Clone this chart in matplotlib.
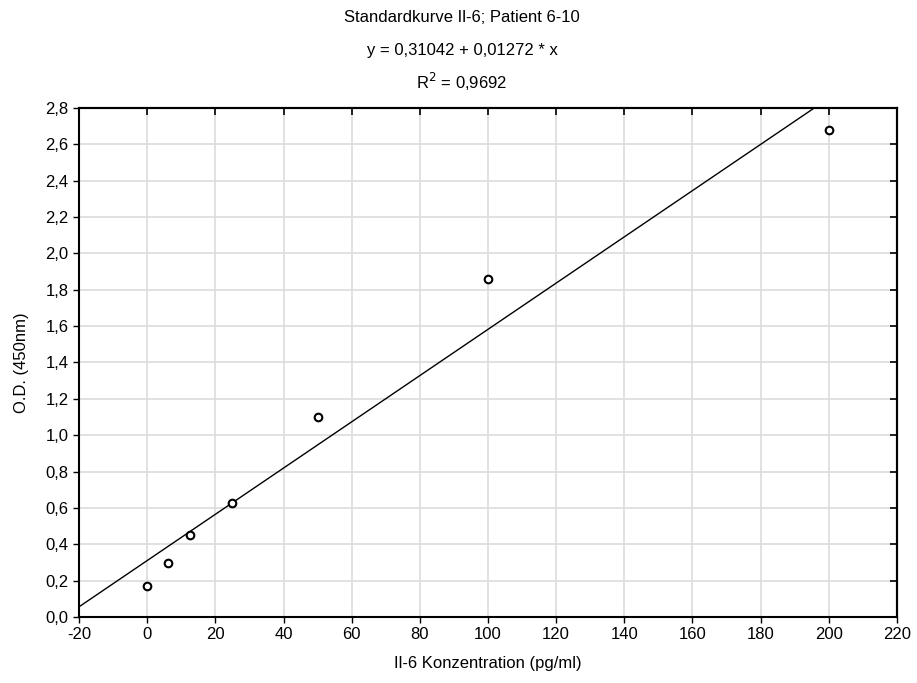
import matplotlib.pyplot as plt
import numpy as np
from matplotlib.ticker import FuncFormatter, MultipleLocator

# standard curve values
conc = [0, 6.25, 12.5, 25, 50, 100, 200]
od = [0.17, 0.295, 0.453, 0.629, 1.10, 1.86, 2.68]
intercept = 0.31042
slope = 0.01272

title_lines = ['Standardkurve Il-6; Patient 6-10',
               'y = 0,31042 + 0,01272 * x',
               'R$^2$ = 0,9692']


def main():
    plt.rcParams['font.family'] = ['Liberation Sans', 'DejaVu Sans']
    plt.rcParams['axes.unicode_minus'] = False
    fig = plt.figure(figsize=(9.17, 6.83), dpi=100)
    ax = fig.add_axes([79 / 917, 1 - 617 / 683, 818 / 917, 509 / 683])

    ax.set_xlim(-20, 220)
    ax.set_ylim(0, 2.8)
    ax.xaxis.set_major_locator(MultipleLocator(20))
    ax.yaxis.set_major_locator(MultipleLocator(0.2))
    ax.yaxis.set_major_formatter(FuncFormatter(lambda v, p: f'{v:.1f}'.replace('.', ',')))
    ax.grid(True, color='#dcdcdc', linewidth=1.2)
    ax.set_axisbelow(True)

    xs = np.array([-20, 220])
    ax.plot(xs, intercept + slope * xs, color='black', linewidth=1)
    ax.scatter(conc, od, s=30, facecolors='white', edgecolors='black',
               linewidths=1.5, zorder=3)

    for s in ax.spines.values():
        s.set_linewidth(1.5)
    ax.tick_params(labelsize=12, direction='out', length=4, width=1)

    # inward ticks on the top and right edges
    top = ax.secondary_xaxis('top')
    top.xaxis.set_major_locator(MultipleLocator(20))
    top.tick_params(direction='in', length=5, width=1.2, color='black', labeltop=False)
    right = ax.secondary_yaxis('right')
    right.yaxis.set_major_locator(MultipleLocator(0.2))
    right.tick_params(direction='in', length=5, width=1.2, color='black', labelright=False)
    for sec in (top, right):
        sec.set_zorder(5)
        for s in sec.spines.values():
            s.set_linewidth(1.5)

    ax.set_xlabel('Il-6 Konzentration (pg/ml)', fontsize=12, labelpad=10)
    ax.set_ylabel('O.D. (450nm)', fontsize=12, labelpad=12)

    ys = [18, 50, 82]
    for line, y in zip(title_lines, ys):
        fig.text(462 / 917, 1 - y / 683, line, ha='center', va='center',
                 fontsize=12)

    fig.savefig('out.png', dpi=100)


if __name__ == '__main__':
    main()
